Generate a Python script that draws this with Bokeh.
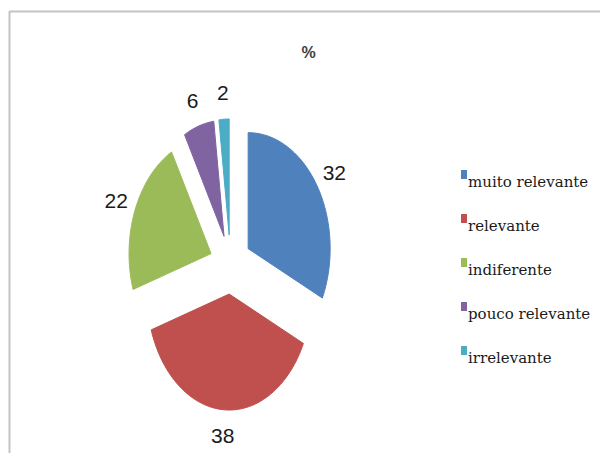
import math
from bokeh.plotting import figure
from bokeh.models import Range1d, ColumnDataSource
from bokeh.core.properties import value
from bokeh.embed import file_html
from bokeh.resources import INLINE

# ---- data ----
categories = ["muito relevante", "relevante", "indiferente", "pouco relevante", "irrelevante"]
values = [32, 38, 22, 6, 2]
colors = ["#4F81BD", "#C0504D", "#9BBB59", "#8064A2", "#4BACC6"]
title_text = "%"

W, H = 600, 453
p = figure(width=W, height=H, output_backend="svg", toolbar_location=None,
           x_range=Range1d(0, W), y_range=Range1d(0, H), min_border=0)
p.axis.visible = False
p.grid.visible = False
p.outline_line_color = None
p.background_fill_color = "white"

def X(sx):
    return sx

def Y(sy):
    return H - sy

# frame lines (top and left of chart area)
p.line([X(9), X(9), X(700)], [Y(600), Y(11), Y(11)], line_color="#c4c4c4", line_width=2)

# ---- exploded elliptical pie ----
cx, cy = X(230), Y(264)
rx, ry = 82, 116
explode = 0.255
total = float(sum(values))
xs, ys, lx, ly = [], [], [], []
start = 0.0
for v in values:
    span = 360.0 * v / total
    end = start + span
    mid = math.radians(start + span / 2)
    ox = cx + explode * rx * math.sin(mid)
    oy = cy + explode * ry * math.cos(mid)
    n = max(4, int(span / 2))
    px, py = [ox], [oy]
    for k in range(n + 1):
        a = math.radians(start + span * k / n)
        px.append(ox + rx * math.sin(a))
        py.append(oy + ry * math.cos(a))
    xs.append(px)
    ys.append(py)
    lx.append(cx + 1.5 * rx * math.sin(mid))
    ly.append(cy + 1.48 * ry * math.cos(mid))
    start = end

src = ColumnDataSource(dict(xs=xs, ys=ys, color=colors, lx=lx, ly=ly,
                            lab=[str(v) for v in values]))
p.patches("xs", "ys", source=src, fill_color="color", line_color="color", line_width=1)
p.text("lx", "ly", text="lab", source=src, text_align="center", text_baseline="middle",
       text_font=value("Liberation Sans"), text_font_size="21px", text_color="#1a1a1a")

# title
p.text([X(308)], [Y(52)], text=[title_text], text_align="center", text_baseline="middle",
       text_font=value("Liberation Sans"), text_font_size="16px", text_font_style="bold",
       text_color="#404040")

# ---- legend ----
leg_x = X(463.5)
leg_top = Y(181)
step = 44
ly_base = [leg_top - i * step for i in range(len(categories))]
lsrc = ColumnDataSource(dict(x=[leg_x] * len(categories), y=ly_base,
                             ys=[yy + 7 for yy in ly_base], tx=[leg_x + 4] * len(categories),
                             name=categories, color=colors))
p.rect("x", "ys", width=6, height=9, width_units="screen", height_units="screen",
       source=lsrc, fill_color="color", line_color=None)
p.text("tx", "y", text="name", source=lsrc, text_align="left", text_baseline="alphabetic",
       text_font=value("DejaVu Serif"), text_font_size="15px", text_color="#1a1a1a")

open("out.html", "w").write(file_html(p, INLINE))
